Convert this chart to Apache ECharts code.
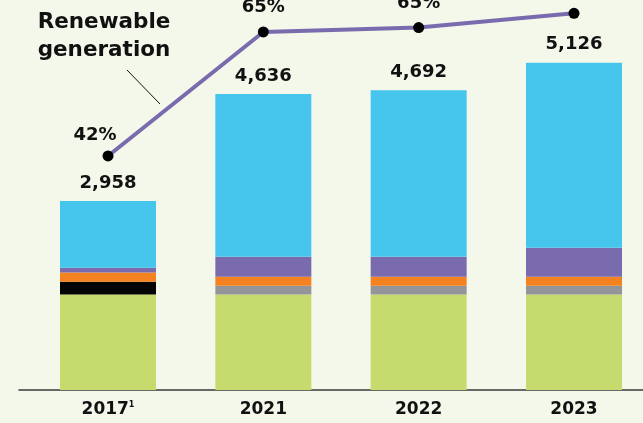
<!DOCTYPE html>
<html>
<head>
<meta charset="utf-8">
<script src="https://cdn.jsdelivr.net/npm/echarts@6/dist/echarts.min.js"></script>
<style>
  html, body { margin: 0; padding: 0; background: #F4F8EA; }
  #chart { width: 643px; height: 423px; }
</style>
</head>
<body>
<div id="chart"></div>
<script>
// Electricity generation by source (stacked), with renewable share line
const years = ['2017', '2021', '2022', '2023'];
const greenSeg  = [1497, 1497, 1497, 1497];
const blackSeg  = [197, 0, 0, 0];
const graySeg   = [0, 135, 135, 135];
const orangeSeg = [147, 141, 141, 141];
const purpleSeg = [72, 313, 313, 454];
const blueSeg   = [1045, 2550, 2606, 2899];
const renewableShare = [42, 64.6, 65.4, 68];

const FONT = 'DejaVu Sans';
const stacks = [greenSeg, blackSeg, graySeg, orangeSeg, purpleSeg, blueSeg];
const totals = years.map((_, i) => stacks.reduce((s, a) => s + a[i], 0));

function barSeries(name, data, color, withTotal) {
  const s = {
    name, type: 'bar', stack: 'gen', data,
    xAxisIndex: 0, yAxisIndex: 0,
    barWidth: 96, clip: false,
    itemStyle: { color },
    emphasis: { disabled: true }
  };
  if (withTotal) {
    s.label = {
      show: true, position: 'top', distance: 9,
      fontFamily: FONT, fontWeight: 'bold', fontSize: 18, color: '#111',
      formatter: p => totals[p.dataIndex].toLocaleString('en-US')
    };
  }
  return s;
}

const chart = echarts.init(document.getElementById('chart'), null, { renderer: 'canvas' });
chart.setOption({
  backgroundColor: '#F4F8EA',
  animation: false,
  grid: [
    // category centres sit on the grid edges (boundaryGap off)
    { left: 108, right: 69, top: 10, bottom: 33 },
    // full-width baseline
    { left: 19, right: 0, top: 10, bottom: 33 }
  ],
  xAxis: [
    {
      type: 'category', data: years, gridIndex: 0, boundaryGap: false,
      axisLine: { show: false },
      axisTick: { show: false },
      axisLabel: {
        margin: 11,
        formatter: v => v === '2017' ? '{y|2017}{sup|1}' : '{y|' + v + '}',
        rich: {
          y: { fontFamily: FONT, fontWeight: 'bold', fontSize: 17, color: '#111' },
          sup: { fontFamily: FONT, fontWeight: 'bold', fontSize: 8, color: '#111', verticalAlign: 'top', padding: [0, 0, 6, 0] }
        }
      }
    },
    {
      type: 'value', gridIndex: 1, min: 0, max: 1,
      axisLine: { show: true, lineStyle: { color: '#3a3a3a', width: 1.5 } },
      axisTick: { show: false }, axisLabel: { show: false }, splitLine: { show: false }
    }
  ],
  yAxis: [
    { type: 'value', gridIndex: 0, min: 0, max: 5950, show: false, splitLine: { show: false } },
    { type: 'value', gridIndex: 0, min: -0.65, max: 68.6, show: false, splitLine: { show: false } },
    { type: 'value', gridIndex: 1, min: 0, max: 1, show: false, splitLine: { show: false } }
  ],
  series: [
    barSeries('Green', greenSeg, '#C5DB6D'),
    barSeries('Black', blackSeg, '#050505'),
    barSeries('Gray', graySeg, '#939598'),
    barSeries('Orange', orangeSeg, '#F58220'),
    barSeries('Purple', purpleSeg, '#7A6BAF'),
    barSeries('Blue', blueSeg, '#46C6EC', true),
    {
      name: 'Renewable generation', type: 'line',
      xAxisIndex: 0, yAxisIndex: 1, clip: false,
      data: renewableShare.map((v, i) => {
        const d = { value: v };
        if (i === 0) d.label = { offset: [-13, 4] };
        if (i === 3) d.label = { show: false };
        return d;
      }),
      symbol: 'circle', symbolSize: 11,
      itemStyle: { color: '#000' },
      lineStyle: { color: '#7A6BAF', width: 4 },
      label: {
        show: true, position: 'top', distance: 10,
        fontFamily: FONT, fontWeight: 'bold', fontSize: 18, color: '#111',
        formatter: p => Math.round(p.value) + '%'
      },
      emphasis: { disabled: true },
      z: 5
    }
  ],
  graphic: [
    {
      type: 'text', x: 104, y: 36,
      style: {
        text: 'Renewable\ngeneration',
        align: 'center', verticalAlign: 'middle',
        fontFamily: FONT, fontWeight: 'bold', fontSize: 21.5, lineHeight: 28,
        fill: '#111'
      }
    },
    {
      type: 'line',
      shape: { x1: 127, y1: 70, x2: 160, y2: 104 },
      style: { stroke: '#111', lineWidth: 1 }
    }
  ]
});
</script>
</body>
</html>
